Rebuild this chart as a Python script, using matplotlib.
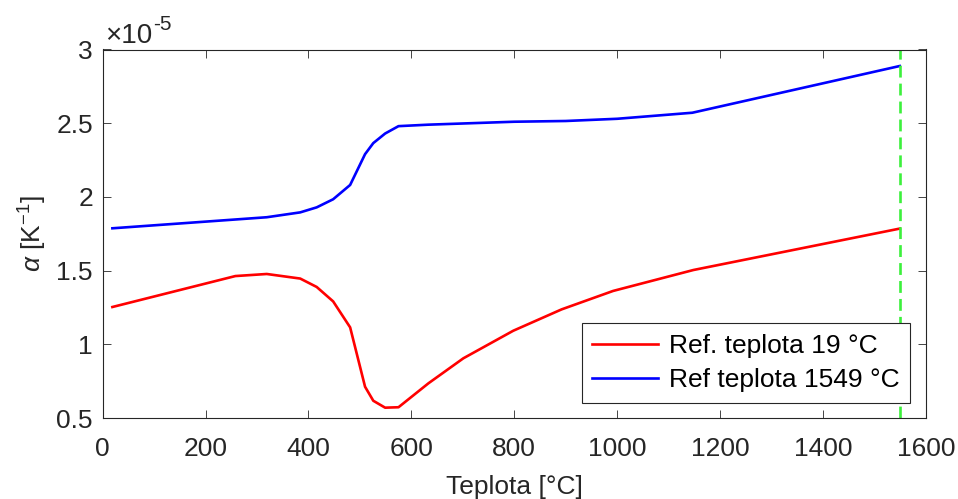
import matplotlib
matplotlib.use("Agg")
import matplotlib.pyplot as plt
import numpy as np

plt.rcParams['font.family'] = ['Liberation Sans', 'DejaVu Sans']
plt.rcParams['mathtext.fontset'] = 'custom'
plt.rcParams['mathtext.rm'] = 'Liberation Sans'
plt.rcParams['mathtext.it'] = 'Liberation Sans:italic'

# Data (alpha values in units of 1e-5 1/K)
t_ref19 = [19, 258, 319, 384, 416, 448, 481, 510, 526, 549, 575, 633, 701, 798, 892, 992, 1148, 1549]
a_ref19 = [1.253, 1.463, 1.477, 1.446, 1.389, 1.291, 1.115, 0.712, 0.617, 0.570, 0.573, 0.735, 0.905, 1.092, 1.237, 1.362, 1.504, 1.785]

t_ref1549 = [19, 319, 384, 416, 448, 481, 510, 526, 549, 575, 633, 800, 900, 1000, 1146, 1549]
a_ref1549 = [1.787, 1.862, 1.895, 1.929, 1.984, 2.081, 2.29, 2.365, 2.43, 2.48, 2.49, 2.51, 2.515, 2.53, 2.571, 2.888]

ref_temp = 1549
labels = ['Ref. teplota 19 °C', 'Ref teplota 1549 °C']
xticks = [0, 200, 400, 600, 800, 1000, 1200, 1400, 1600]
yticks = [0.5, 1, 1.5, 2, 2.5, 3]

fs = 19
axcol = '#262626'

fig = plt.figure(figsize=(9.58, 4.99), dpi=100)
ax = fig.add_axes([102.6/958, (499-418)/499, (926-102.6)/958, (418-49.5)/499])

ax.plot(t_ref19, a_ref19, color=(1, 0, 0), lw=1.9, label=labels[0])
ax.plot(t_ref1549, a_ref1549, color=(0, 0, 1), lw=1.9, label=labels[1])
ax.axvline(ref_temp, color='#3cf03c', lw=1.9, ls=(0, (4.5, 2.3)))

ax.set_xlim(0, 1600)
ax.set_ylim(0.5, 3)
ax.set_xticks(xticks)
ax.set_yticks(yticks)
ax.set_xticklabels([str(v) for v in xticks])
ax.set_yticklabels(['%g' % v for v in yticks])

ax.tick_params(direction='in', length=5.5, width=0.6, colors=axcol, labelsize=fs,
               top=True, right=True, labelcolor=axcol)
ax.tick_params(axis='x', pad=14)
ax.tick_params(axis='y', pad=7)
for s in ax.spines.values():
    s.set_color(axcol)
    s.set_linewidth(0.8)

ax.set_xlabel('Teplota [°C]', fontsize=fs, color=axcol, labelpad=10)
ax.set_ylabel(r'$\alpha$ [K$^{-1}$]', fontsize=fs, color=axcol, labelpad=5)

ax.text(0.003, 1.0185, '\u00d710', transform=ax.transAxes, fontsize=20,
        color=axcol, ha='left', va='baseline')
ax.text(0.0612, 1.053, '-5', transform=ax.transAxes, fontsize=15,
        color=axcol, ha='left', va='baseline')

leg = ax.legend(loc='lower right', bbox_to_anchor=(0.9806, 0.0407), fontsize=fs,
                frameon=True, fancybox=False, edgecolor=axcol, framealpha=1,
                handlelength=2.5, handletextpad=0.4, borderpad=0.4,
                labelspacing=0.4, borderaxespad=0)
leg.get_frame().set_linewidth(0.8)
for t in leg.get_texts():
    t.set_color('black')

fig.savefig('out.png', dpi=100, facecolor='white')
